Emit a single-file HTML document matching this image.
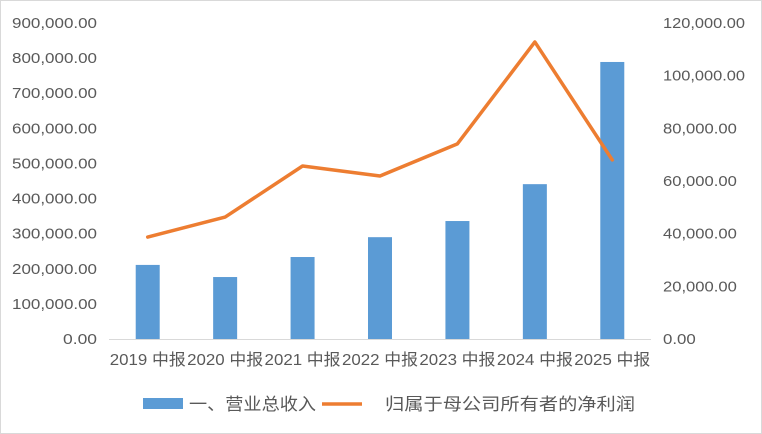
<!DOCTYPE html>
<html><head><meta charset="utf-8"><style>
body{margin:0;background:#fff;}
svg{display:block;font-family:"Liberation Sans","Noto Sans CJK SC",sans-serif;}
</style></head><body>
<svg id="chart" width="762" height="434">
<rect x="0.5" y="0.5" width="761" height="433" fill="#fff" stroke="#d9d9d9"/>
<g id="g"></g>
</svg>
<script>
const categories=["2019 中报","2020 中报","2021 中报","2022 中报","2023 中报","2024 中报","2025 中报"];
const revenue=[211000,176500,233500,290000,336000,441000,789000];
const profit=[38700,46300,65700,61900,74100,112800,68000];
const leftTicks=[0,100000,200000,300000,400000,500000,600000,700000,800000,900000];
const rightTicks=[0,20000,40000,60000,80000,100000,120000];
const NS="http://www.w3.org/2000/svg";
const g=document.getElementById('g');
const x0=109,x1=651,yB=339,yT=23;
const step=(x1-x0)/categories.length;
const xC=i=>x0+step*(i+0.5);
const yL=v=>yB-(v/900000)*(yB-yT);
const yR=v=>yB-(v/120000)*(yB-yT);
const fmt=v=>v.toLocaleString('en-US',{minimumFractionDigits:2,maximumFractionDigits:2});
function mk(t,a,txt){const e=document.createElementNS(NS,t);for(const k in a)e.setAttribute(k,a[k]);if(txt!==undefined)e.textContent=txt;g.appendChild(e);return e;}
const per=85/10;
leftTicks.forEach(v=>{const s=fmt(v);const e=mk('text',{x:97,y:yL(v)+5,'text-anchor':'end','font-size':15,fill:'#595959',textLength:s.length*per,lengthAdjust:'spacingAndGlyphs'},s);

});
rightTicks.forEach(v=>{const s=fmt(v);const e=mk('text',{x:663,y:yR(v)+5,'font-size':15,fill:'#595959',textLength:s.length*8.2,lengthAdjust:'spacingAndGlyphs'},s);

});
const ax=mk('line',{x1:x0,x2:x1,y1:yB+0.5,y2:yB+0.5,stroke:'#d9d9d9'});


categories.forEach((c,i)=>{const e=mk('text',{x:xC(i),y:365,'text-anchor':'middle','font-size':16,fill:'#595959',textLength:76,lengthAdjust:'spacingAndGlyphs'},c);

});
revenue.forEach((v,i)=>{const b=mk('rect',{x:xC(i)-12,y:yL(v),width:24,height:yB-yL(v),fill:'#5b9bd5'});

});
const pl=mk('polyline',{points:profit.map((v,i)=>xC(i)+','+yR(v)).join(' '),fill:'none',stroke:'#ed7d31','stroke-width':3.5,'stroke-linejoin':'round','stroke-linecap':'round'});


const l1=mk('rect',{x:143,y:398,width:40,height:11,fill:'#5b9bd5'});


const t1=mk('text',{x:189,y:410,'font-size':17,fill:'#595959',textLength:127,lengthAdjust:'spacingAndGlyphs'},'一、营业总收入');


const l2=mk('line',{x1:322,x2:362,y1:404,y2:404,stroke:'#ed7d31','stroke-width':3.5});


const t2=mk('text',{x:385,y:410,'font-size':17,fill:'#595959',textLength:250,lengthAdjust:'spacingAndGlyphs'},'归属于母公司所有者的净利润');


</script>
</body></html>
